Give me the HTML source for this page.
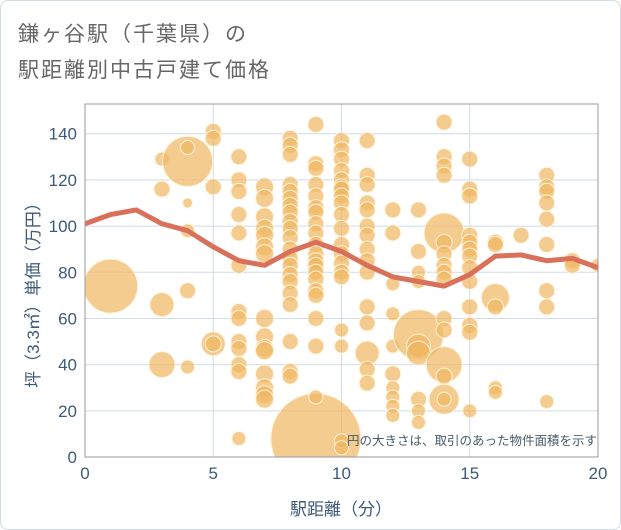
<!DOCTYPE html>
<html><head><meta charset="utf-8"><style>
body{margin:0;background:#fff;font-family:"Liberation Sans","Noto Sans CJK JP",sans-serif;}
#wrap{position:relative;width:619px;height:528px;border:1px solid #d3dbe3;border-radius:8px;overflow:hidden;}
</style></head><body>
<div id="wrap">
<svg id="chart" width="621" height="530"></svg>
</div>
<script>
const xTicks=[0,5,10,15,20];
const yTicks=[0,20,40,60,80,100,120,140];
const lineX=[0,1,2,3,4,5,6,7,8,9,10,11,12,13,14,15,16,17,18,19,20];
const lineY=[101,105,107,101,98,91,85,83,89,93,89,83,78,76,74,79,87,87.5,85,86,82];
const bubbleX=[1,3,3,3,3,4,4,4,4,4,4,5,5,5,5,5,
6,6,6,6,6,6,6,6,6,6,6,6,6,
7,7,7,7,7,7,7,7,7,7,7,7,7,7,7,
8,8,8,8,8,8,8,8,8,8,8,8,8,8,8,8,8,8,8,8,8,
9,9,9,9,9,9,9,9,9,9,9,9,9,9,9,9,9,9,9,9,9,
10,10,10,10,10,10,10,10,10,10,10,10,10,10,10,10,10,10,10,10,
11,11,11,11,11,11,11,11,11,11,11,11,11,11,11,
12,12,12,12,12,12,12,12,12,12,
13,13,13,13,13,13,13,13,13,13,
14,14,14,14,14,14,14,14,14,14,14,14,14,14,14,14,
15,15,15,15,15,15,15,15,15,15,15,15,15,
16,16,16,16,16,16,17,18,18,18,18,18,18,18,18,18,19,19,20];
const bubbleY=[74,129,116,66,40,128,134,110,98,72,39,141,138,117,49,49,
130,120,115,105,97,83,63,60,50,47,40,37,8,
117,112,104,99,96,91,88,60,52,47,46,36,30,27,25,
138,135,131,118,115,112,109,106,102,99,95,90,86,83,79,76,71,66,50,37,35,
8,144,127,125,118,113,108,106,101,97,92,88,85,83,80,77,72,70,60,48,26,
137,133,129,124,120,117,116,113,110,105,99,92,88,84,80,78,55,48,7,4,
137,122,118,110,107,100,96,90,85,80,65,58,45,38,32,
107,97,75,62,48,36,30,26,22,18,
107,89,80,76,53,48,45,25,20,15,
145,130,126,122,97,93,88,83,80,77,60,55,40,35,25,25,
129,116,113,96,93,90,87,82,76,65,57,54,20,
93,92,69,65,30,28,96,122,117,115,110,103,92,72,65,24,85,83,83];
const bubbleR=[27,7,8,12,13,25,7,5,7,8,7,8,8,8,12,8,
8,8,8,8,8,8,8,8,8,8,8,8,7,
9,9,9,9,9,9,9,9,9,9,9,9,9,9,9,
8,8,8,8,8,8,8,8,8,8,8,8,8,8,8,8,8,8,8,8,8,
45,8,8,8,8,8,8,8,8,8,8,8,8,8,8,8,8,8,8,8,7,
8,8,8,8,8,8,8,8,8,8,8,8,8,8,8,8,7,7,7,7,
8,8,8,8,8,8,8,8,8,8,8,8,12,8,8,
8,8,7,7,7,8,7,7,7,7,
8,8,7,7,25,12,12,8,7,7,
8,8,8,8,20,8,8,8,8,8,8,8,18,8,15,7,
8,8,8,8,8,8,8,8,8,8,8,8,7,
8,8,14,8,7,7,8,8,8,8,8,8,8,8,8,7,8,8,7];
const NS="http://www.w3.org/2000/svg";
const svg=document.getElementById('chart');
const L=84,R=597,T=103,B=456;
const xs=v=>L+(v-0)/20*(R-L);
const ys=v=>B-v/140*(B-132.7);
function mk(tag,attrs,parent){const e=document.createElementNS(NS,tag);for(const k in attrs)e.setAttribute(k,attrs[k]);(parent||svg).appendChild(e);return e;}
const t=mk('text',{x:17,y:40,fill:'#666','font-size':21,'letter-spacing':2});


t.textContent='鎌ヶ谷駅（千葉県）の';
const t2=mk('text',{x:17,y:76,fill:'#666','font-size':21,'letter-spacing':2});


t2.textContent='駅距離別中古戸建て価格';
const g=mk('g',{});


yTicks.forEach(v=>{
 const l=mk('line',{x1:L,x2:R,y1:ys(v),y2:ys(v),stroke:'#cfdbe6','stroke-width':1},g);
 
 
 const tx=mk('text',{x:L-8,y:ys(v)+6,'text-anchor':'end',fill:'#3d5a78','font-size':17});
 
 
 tx.textContent=v;
});
xTicks.forEach(v=>{
 const l=mk('line',{x1:xs(v),x2:xs(v),y1:T,y2:B,stroke:'#cfdbe6','stroke-width':1},g);
 
 
 const tx=mk('text',{x:xs(v),y:B+22,'text-anchor':'middle',fill:'#3d5a78','font-size':17});
 
 
 tx.textContent=v;
});
const cp=mk('clipPath',{id:'clip'});mk('rect',{x:L,y:T,width:R-L,height:B-T},cp);
const bg=mk('g',{});


bg.setAttribute('clip-path','url(#clip)');
bubbleX.forEach((x,i)=>{
 const c=mk('circle',{cx:xs(x),cy:ys(bubbleY[i]),r:bubbleR[i],fill:'#f0b760','fill-opacity':0.7,stroke:'#fff3dc','stroke-width':1},bg);
 
 
});
const pl=mk('polyline',{points:lineX.map((x,i)=>xs(x)+','+ys(lineY[i])).join(' '),fill:'none',stroke:'#d9705a','stroke-width':5,'stroke-linejoin':'round','clip-path':'url(#clip)'});


const fr=mk('rect',{x:L,y:T,width:R-L,height:B-T,fill:'none',stroke:'#999','stroke-width':1});


const n=mk('text',{x:596,y:444,'text-anchor':'end',fill:'#4a5a6a','font-size':12.5});


n.textContent='円の大きさは、取引のあった物件面積を示す';
const xt=mk('text',{x:340,y:514,'text-anchor':'middle',fill:'#3d5a78','font-size':17});


xt.textContent='駅距離（分）';
const yt=mk('text',{x:0,y:0,'text-anchor':'middle',fill:'#3d5a78','font-size':17,transform:'translate(38,290) rotate(-90)'});


yt.textContent='坪（3.3㎡）単価（万円）';
</script>
</body></html>
